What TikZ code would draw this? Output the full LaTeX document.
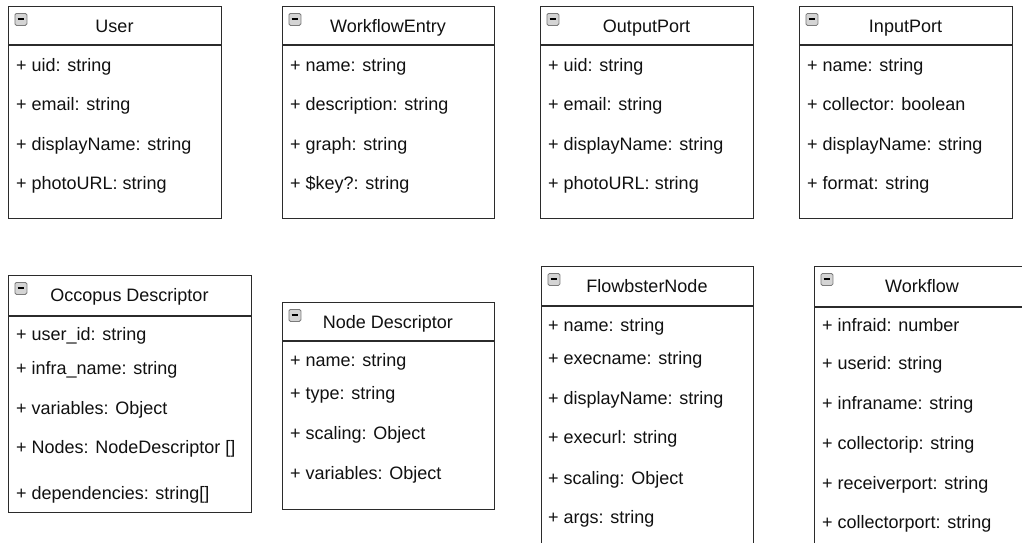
\documentclass[tikz,border=0pt]{standalone}
\usepackage{fontspec}
\setmainfont{Liberation Sans}
\definecolor{boxline}{HTML}{2B2B2B}
\definecolor{iconfill}{HTML}{D4D4D4}
\definecolor{iconline}{HTML}{7A7A7A}
\definecolor{textcol}{HTML}{111111}
\tikzset{
  classbox/.style={draw=boxline, line width=1.3pt, fill=white, inner sep=0pt, anchor=north west},
  divider/.style={draw=boxline, line width=1.3pt},
  iconbox/.style={draw=iconline, fill=iconfill, line width=0.8pt, rounded corners=1.5pt, minimum width=12pt, minimum height=12pt, inner sep=0pt, anchor=north west},
  titletext/.style={inner sep=0pt, anchor=base, font=\fontsize{18}{21}\selectfont, text=textcol},
  attrtext/.style={inner sep=0pt, anchor=base west, font=\fontsize{18}{21}\selectfont, text=textcol}
}
% #1 name, #2 x1, #3 y1, #4 x2, #5 y2, #6 divider y, #7 title, #8 title baseline
\newcommand\umlbox[8]{%
  \node[classbox, minimum width={#4-#2}, minimum height={#5-#3}] (#1) at (#2,#3) {};
  \draw[divider] (#2,#6) -- (#4,#6);
  \node[iconbox] (#1-icon) at ({#2+6.5},{#3+7}) {};
  \draw[black, line width=1.4pt] ({#2+9.5},{#3+13}) -- ({#2+15.5},{#3+13});
  \node[titletext] (#1-title) at ({(#2+#4)/2},#8) {#7};
}
% #1 name, #2 x, #3 baseline, #4 text
\newcommand\umlattr[4]{%
  \node[attrtext] (#1) at (#2,#3) {#4};
}
\begin{document}
\begin{tikzpicture}[x=1pt,y=-1pt]
\useasboundingbox (0,0) rectangle (1022,542);
\clip (0,0) rectangle (1022,542);
\fill[white] (0,0) rectangle (1022,542);

% ---- top row ----
\umlbox{user}{8}{6}{221}{218}{45}{User}{32.5}
\umlattr{user-1}{16}{71}{+ uid: string}
\umlattr{user-2}{16}{110.5}{+ email: string}
\umlattr{user-3}{16}{150}{+ displayName: string}
\umlattr{user-4}{16}{189.5}{+ photoURL: string}

\umlbox{wfe}{282}{6}{494}{218}{45}{WorkflowEntry}{32.5}
\umlattr{wfe-1}{290}{71}{+ name: string}
\umlattr{wfe-2}{290}{110.5}{+ description: string}
\umlattr{wfe-3}{290}{150}{+ graph: string}
\umlattr{wfe-4}{290}{189.5}{+ \$key?: string}

\umlbox{outp}{540}{6}{753}{218}{45}{OutputPort}{32.5}
\umlattr{outp-1}{548}{71}{+ uid: string}
\umlattr{outp-2}{548}{110.5}{+ email: string}
\umlattr{outp-3}{548}{150}{+ displayName: string}
\umlattr{outp-4}{548}{189.5}{+ photoURL: string}

\umlbox{inp}{799}{6}{1012}{218}{45}{InputPort}{32.5}
\umlattr{inp-1}{807}{71}{+ name: string}
\umlattr{inp-2}{807}{110.5}{+ collector: boolean}
\umlattr{inp-3}{807}{150}{+ displayName: string}
\umlattr{inp-4}{807}{189.5}{+ format: string}

% ---- bottom row ----
\umlbox{occ}{8}{275}{251}{512}{316}{Occopus Descriptor}{301}
\umlattr{occ-1}{16}{340.5}{+ user\_id: string}
\umlattr{occ-2}{16}{374}{+ infra\_name: string}
\umlattr{occ-3}{16}{414}{+ variables: Object}
\umlattr{occ-4}{16}{453}{+ Nodes: NodeDescriptor []}
\umlattr{occ-5}{16}{499}{+ dependencies: string[]}

\umlbox{nd}{282}{302}{494}{509}{341}{Node Descriptor}{328}
\umlattr{nd-1}{290}{366.5}{+ name: string}
\umlattr{nd-2}{290}{399.5}{+ type: string}
\umlattr{nd-3}{290}{439}{+ scaling: Object}
\umlattr{nd-4}{290}{479}{+ variables: Object}

\umlbox{fb}{541}{266}{753}{560}{306}{FlowbsterNode}{292.5}
\umlattr{fb-1}{548}{331}{+ name: string}
\umlattr{fb-2}{548}{364.5}{+ execname: string}
\umlattr{fb-3}{548}{404.5}{+ displayName: string}
\umlattr{fb-4}{548}{443.5}{+ execurl: string}
\umlattr{fb-5}{548}{484}{+ scaling: Object}
\umlattr{fb-6}{548}{523}{+ args: string}

\umlbox{wf}{814}{266}{1030}{560}{307}{Workflow}{292.5}
\umlattr{wf-1}{822}{331.5}{+ infraid: number}
\umlattr{wf-2}{822}{369.5}{+ userid: string}
\umlattr{wf-3}{822}{409.5}{+ infraname: string}
\umlattr{wf-4}{822}{449}{+ collectorip: string}
\umlattr{wf-5}{822}{489}{+ receiverport: string}
\umlattr{wf-6}{822}{528}{+ collectorport: string}
\end{tikzpicture}
\end{document}
